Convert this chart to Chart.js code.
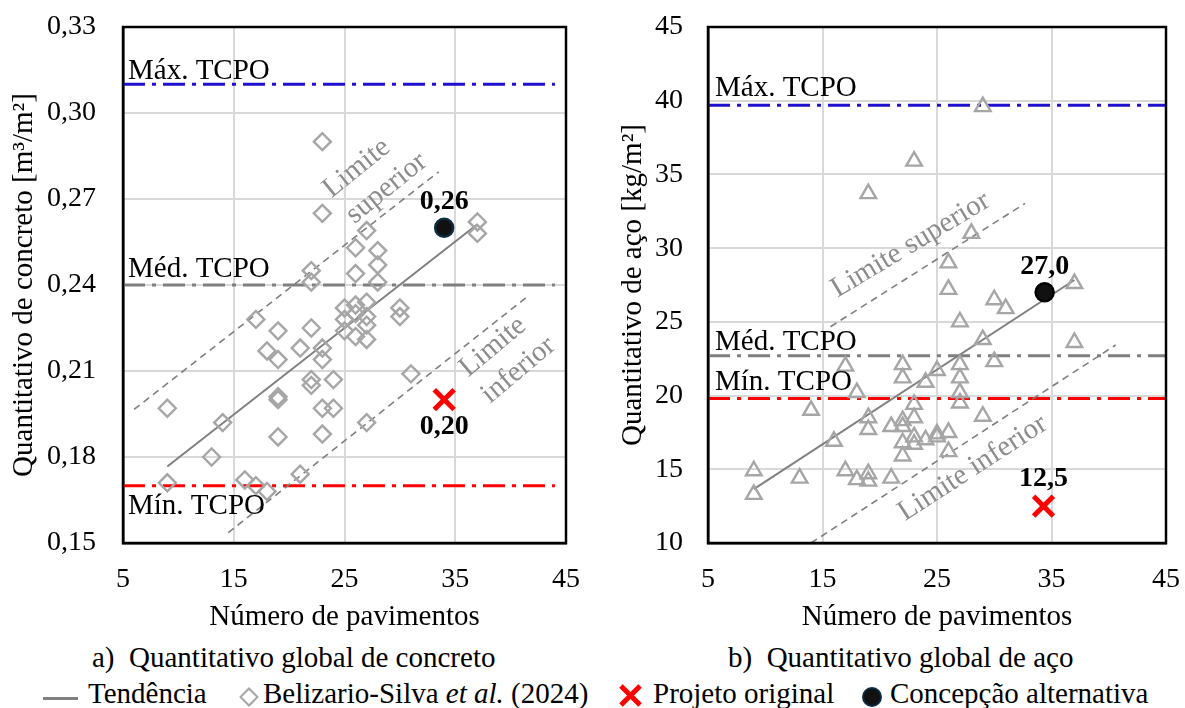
<!DOCTYPE html>
<html>
<head>
<meta charset="utf-8">
<script src="https://cdn.jsdelivr.net/npm/chart.js@4.4.1/dist/chart.umd.min.js"></script>
<style>
  body { margin: 0; background: #fff; width: 1185px; height: 708px; overflow: hidden; position: relative;
         font-family: "Liberation Serif", "Times New Roman", serif; color: #000; }
  #graficoConcreto { position: absolute; left: 0; top: 0; }
  #graficoAco { position: absolute; left: 590px; top: 0; }
  .txt { position: absolute; font-size: 29px; line-height: 30px; white-space: nowrap; }
  .linha { position: absolute; left: 43px; top: 697px; width: 35px; height: 3px; background: #808080; }
  .losango { position: absolute; left: 242px; top: 690px; width: 10px; height: 10px; border: 2.6px solid #a6a6a6; transform: rotate(45deg); }
  .xis { position: absolute; left: 617px; top: 693px; width: 27px; height: 5px; background: #ff0000; }
  .bola { position: absolute; left: 862px; top: 687px; width: 16px; height: 16px; border-radius: 50%; background: #111; border: 2.5px solid #0d2b3e; }
</style>
</head>
<body>
<canvas id="graficoConcreto" width="590" height="640"></canvas>
<canvas id="graficoAco" width="595" height="640"></canvas>

<div class="txt" style="left:92px;top:642px">a)&nbsp; Quantitativo global de concreto</div>
<div class="txt" style="left:728px;top:642px">b)&nbsp; Quantitativo global de aço</div>

<div class="linha"></div>
<div class="txt" style="left:88px;top:678px">Tendência</div>
<div class="losango"></div>
<div class="txt" style="left:263px;top:678px">Belizario-Silva <i>et al.</i> (2024)</div>
<div class="xis" style="transform:rotate(45deg)"></div>
<div class="xis" style="transform:rotate(-45deg)"></div>
<div class="txt" style="left:653px;top:678px">Projeto original</div>
<div class="bola"></div>
<div class="txt" style="left:890px;top:678px">Concepção alternativa</div>

<script>
//************************************
// dados
//************************************
var xTicks = [5, 15, 25, 35, 45]
var yTicksConcreto = [0.15, 0.18, 0.21, 0.24, 0.27, 0.30, 0.33]
var yTicksAco = [10, 15, 20, 25, 30, 35, 40, 45]

// a) concreto [m³/m²]
var pavConcreto = [9, 9, 13, 14, 16, 17, 17, 18, 18, 19, 19, 19, 19, 19, 21, 21, 22, 22, 22, 22, 22, 23, 23, 23, 23, 23, 23, 24, 24, 25, 25, 25, 26, 26, 26, 26, 26, 27, 27, 27, 27, 27, 27, 28, 28, 28, 30, 30, 31, 37, 37]
var concreto = [0.197, 0.171, 0.180, 0.192, 0.172, 0.170, 0.228, 0.168, 0.217, 0.224, 0.214, 0.201, 0.200, 0.187, 0.174, 0.218, 0.245, 0.241, 0.225, 0.207, 0.205, 0.290, 0.265, 0.218, 0.214, 0.197, 0.188, 0.207, 0.197, 0.232, 0.228, 0.224, 0.253, 0.244, 0.233, 0.230, 0.222, 0.259, 0.234, 0.229, 0.226, 0.221, 0.192, 0.252, 0.247, 0.241, 0.232, 0.229, 0.209, 0.262, 0.258]
var tcpoConcreto = [0.31, 0.24, 0.17] // máx, méd, mín
var tcpoConcretoX = [5, 44]
var tendConcretoX = [9, 37]
var tendConcretoY = [0.1767, 0.2612]
var limSupConcretoX = [6, 33.5]
var limSupConcretoY = [0.1966, 0.2795]
var limInfConcretoX = [14.5, 41.7]
var limInfConcretoY = [0.1536, 0.2365]
var projetoConcreto = [34, 0.20]
var alternativaConcreto = [34, 0.26]

// b) aço [kg/m²]
var pavAco = [9, 9, 13, 14, 16, 17, 17, 18, 18, 19, 19, 19, 19, 19, 21, 21, 22, 22, 22, 22, 22, 22, 23, 23, 23, 23, 23, 24, 24, 25, 25, 25, 26, 26, 26, 26, 27, 27, 27, 27, 27, 28, 29, 29, 29, 30, 30, 31, 37, 37]
var aco = [14.9, 13.3, 14.4, 19.0, 16.9, 22.0, 14.9, 20.2, 14.3, 33.7, 18.5, 17.7, 14.7, 14.2, 17.9, 14.4, 22.1, 21.2, 18.3, 17.9, 16.8, 15.9, 35.9, 19.4, 18.5, 17.2, 16.7, 20.9, 17.0, 21.7, 17.4, 17.2, 29.0, 27.2, 17.5, 16.2, 25.0, 22.1, 21.2, 20.2, 19.5, 31.0, 39.6, 23.8, 18.6, 26.5, 22.3, 25.9, 27.6, 23.6]
var tcpoAco = [39.7, 22.7, 19.8] // máx, méd, mín
var tcpoAcoX = [5, 45]
var tendAcoX = [9, 37]
var tendAcoY = [13.66, 27.84]
var limSupAcoX = [15.7, 32.7]
var limSupAcoY = [24.67, 33.04]
var limInfAcoX = [14, 40.6]
var limInfAcoY = [10, 23.43]
var projetoAco = [34.3, 12.5]
var alternativaAco = [34.4, 27.0]

//************************************
// auxiliares
//************************************
var fonte = '"Liberation Serif", "Times New Roman", serif'
var coresTcpo = ['#2010d0', '#7f7f7f', '#ff0000']
var virgula = (v, d) => v.toFixed(d).replace('.', ',')

const pares = (xs, ys) => xs.map((x, i) => ({ x: x, y: ys[i] }))

// textos soltos dentro do gráfico
const criaTextos = (itens) => ({
    id: 'textos',
    afterDatasetsDraw(chart) {
        const ctx = chart.ctx
        const sx = chart.scales.x, sy = chart.scales.y
        itens.forEach(it => {
            ctx.save()
            ctx.translate(sx.getPixelForValue(it.x) + (it.dx || 0), sy.getPixelForValue(it.y) + (it.dy || 0))
            if (it.rot) ctx.rotate(it.rot * Math.PI / 180)
            ctx.font = (it.bold ? 'bold 28px ' : '29px ') + fonte
            ctx.fillStyle = it.cor || '#000'
            ctx.textAlign = it.align || 'center'
            ctx.textBaseline = it.base || 'middle'
            ctx.fillText(it.t, 0, 0)
            ctx.restore()
        })
    }
})

// moldura preta em volta da área do gráfico
const moldura = {
    id: 'moldura',
    afterDraw(chart) {
        const a = chart.chartArea, ctx = chart.ctx
        ctx.save()
        ctx.strokeStyle = '#000'
        ctx.lineWidth = 2.5
        ctx.strokeRect(a.left, a.top, a.right - a.left, a.bottom - a.top)
        ctx.restore()
    }
}

// zera o espaço extra que o chart.js reserva para os rótulos das pontas
const semSobra = (s) => { s.paddingTop = 0; s.paddingBottom = 0; s.paddingLeft = 0; s.paddingRight = 0 }

const linhaRef = (xs, v, cor) => ({
    data: pares(xs, [v, v]), showLine: true, pointRadius: 0,
    borderColor: cor, borderWidth: 3, borderDash: [22, 7, 4, 7]
})
const linhaTracejada = (xs, ys) => ({
    data: pares(xs, ys), showLine: true, pointRadius: 0,
    borderColor: '#7f7f7f', borderWidth: 1.6, borderDash: [7, 5]
})

const montaGrafico = (id, cfg) => {
    const ctx = document.getElementById(id).getContext('2d')
    return new Chart(ctx, {
        type: 'scatter',
        data: {
            datasets: [
                { data: [{ x: cfg.alt[0], y: cfg.alt[1] }], pointStyle: 'circle', pointRadius: 9,
                  backgroundColor: '#111', borderColor: cfg.corBordaAlt, borderWidth: 2.5 },
                { data: [{ x: cfg.proj[0], y: cfg.proj[1] }], pointStyle: 'crossRot', pointRadius: 14,
                  borderColor: '#ff0000', borderWidth: 5 },
                { data: pares(cfg.pav, cfg.val), pointStyle: cfg.simbolo, pointRadius: cfg.raio,
                  borderColor: '#a6a6a6', backgroundColor: 'rgba(0,0,0,0)', borderWidth: 2.4 },
                { data: pares(cfg.tendX, cfg.tendY), showLine: true, pointRadius: 0,
                  borderColor: '#808080', borderWidth: 2 },
                linhaTracejada(cfg.supX, cfg.supY),
                linhaTracejada(cfg.infX, cfg.infY),
                linhaRef(cfg.refX, cfg.tcpo[0], coresTcpo[0]),
                linhaRef(cfg.refX, cfg.tcpo[1], coresTcpo[1]),
                linhaRef(cfg.refX, cfg.tcpo[2], coresTcpo[2])
            ]
        },
        options: {
            responsive: false,
            animation: false,
            events: [],
            layout: { padding: { left: 0, right: cfg.padDir, top: 27, bottom: 0 } },
            plugins: { legend: { display: false }, tooltip: { enabled: false } },
            scales: {
                x: {
                    type: 'linear', min: 5, max: 45,
                    afterBuildTicks: s => { s.ticks = xTicks.map(v => ({ value: v })) },
                    afterFit: s => { s.height = 97; semSobra(s) },
                    grid: { color: '#d9d9d9', lineWidth: 2, drawTicks: false },
                    border: { color: '#000', width: 2.5 },
                    ticks: { color: '#000', font: { family: fonte, size: 28 }, padding: 20, maxRotation: 0, autoSkip: false },
                    title: { display: true, text: 'Número de pavimentos', color: '#000',
                             font: { family: fonte, size: 29 }, padding: { top: 0, bottom: 5 } }
                },
                y: {
                    type: 'linear', min: cfg.yTicks[0], max: cfg.yTicks[cfg.yTicks.length - 1],
                    afterBuildTicks: s => { s.ticks = cfg.yTicks.map(v => ({ value: v })) },
                    afterFit: s => { s.width = cfg.largY; semSobra(s) },
                    grid: { color: '#d9d9d9', lineWidth: 2, drawTicks: false },
                    border: { color: '#000', width: 2.5 },
                    ticks: { color: '#000', font: { family: fonte, size: 28 }, padding: cfg.padTickY, autoSkip: false,
                             callback: v => virgula(v, cfg.casas) },
                    title: { display: true, text: cfg.tituloY, color: '#000',
                             font: { family: fonte, size: 29 }, padding: { top: cfg.padTitY, bottom: 0 } }
                }
            }
        },
        plugins: [criaTextos(cfg.textos), moldura]
    })
}

//************************************
// a) concreto
//************************************
montaGrafico('graficoConcreto', {
    pav: pavConcreto, val: concreto, simbolo: 'rectRot', raio: 8.5,
    tendX: tendConcretoX, tendY: tendConcretoY,
    supX: limSupConcretoX, supY: limSupConcretoY,
    infX: limInfConcretoX, infY: limInfConcretoY,
    refX: tcpoConcretoX, tcpo: tcpoConcreto,
    proj: projetoConcreto, alt: alternativaConcreto, corBordaAlt: '#0d2b3e',
    yTicks: yTicksConcreto, casas: 2, largY: 123, padDir: 24, padTitY: 7, padTickY: 27,
    tituloY: 'Quantitativo de concreto [m³/m²]',
    textos: [
        { t: 'Máx. TCPO', x: 5, y: tcpoConcreto[0], dx: 5, dy: -5, align: 'left', base: 'alphabetic' },
        { t: 'Méd. TCPO', x: 5, y: tcpoConcreto[1], dx: 5, dy: -8, align: 'left', base: 'alphabetic' },
        { t: 'Mín. TCPO', x: 5, y: tcpoConcreto[2], dx: 5, dy: 28, align: 'left', base: 'alphabetic' },
        { t: 'Limite', x: 26.1, y: 0.2807, rot: -39, cor: '#8c8c8c' },
        { t: 'superior', x: 28.8, y: 0.2737, rot: -39, cor: '#8c8c8c' },
        { t: 'Limite', x: 38.4, y: 0.2184, rot: -40, cor: '#8c8c8c' },
        { t: 'inferior', x: 40.7, y: 0.2103, rot: -40, cor: '#8c8c8c' },
        { t: virgula(alternativaConcreto[1], 2), x: alternativaConcreto[0], y: alternativaConcreto[1], dy: -26, bold: true },
        { t: virgula(projetoConcreto[1], 2), x: projetoConcreto[0], y: projetoConcreto[1], dy: 27, bold: true }
    ]
})

//************************************
// b) aço
//************************************
montaGrafico('graficoAco', {
    pav: pavAco, val: aco, simbolo: 'triangle', raio: 9,
    tendX: tendAcoX, tendY: tendAcoY,
    supX: limSupAcoX, supY: limSupAcoY,
    infX: limInfAcoX, infY: limInfAcoY,
    refX: tcpoAcoX, tcpo: tcpoAco,
    proj: projetoAco, alt: alternativaAco, corBordaAlt: '#000',
    yTicks: yTicksAco, casas: 0, largY: 118, padDir: 15, padTitY: 26, padTickY: 25,
    tituloY: 'Quantitativo de aço [kg/m²]',
    textos: [
        { t: 'Máx. TCPO', x: 5, y: tcpoAco[0], dx: 7, dy: -9, align: 'left', base: 'alphabetic' },
        { t: 'Méd. TCPO', x: 5, y: tcpoAco[1], dx: 7, dy: -6, align: 'left', base: 'alphabetic' },
        { t: 'Mín. TCPO', x: 5, y: tcpoAco[2], dx: 7, dy: -9, align: 'left', base: 'alphabetic' },
        { t: 'Limite superior', x: 22.69, y: 30.21, rot: -31, cor: '#8c8c8c' },
        { t: 'Limite inferior', x: 28.12, y: 15.07, rot: -33, cor: '#8c8c8c' },
        { t: virgula(alternativaAco[1], 1), x: alternativaAco[0], y: alternativaAco[1], dy: -26, bold: true },
        { t: virgula(projetoAco[1], 1), x: projetoAco[0], y: projetoAco[1], dy: -27, bold: true }
    ]
})
</script>
</body>
</html>
